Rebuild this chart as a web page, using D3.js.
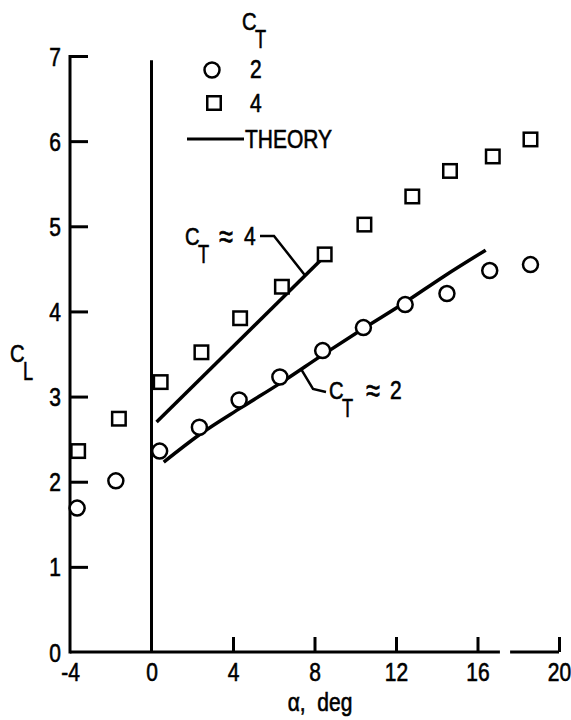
<!DOCTYPE html>
<html><head><meta charset="utf-8">
<script src="https://cdn.jsdelivr.net/npm/d3@7"></script>
<style>
html,body{margin:0;padding:0;background:#fff;}
text{font-family:"Liberation Sans",Arial,sans-serif;fill:#000;stroke:#000;stroke-width:0.6px;white-space:pre;}
</style></head>
<body><svg id="chart" width="571" height="720"></svg>
<script>
// ---- data ----
const xTicks = [-4, 0, 4, 8, 12, 16, 20];
const yTicks = [0, 1, 2, 3, 4, 5, 6, 7];
const ct2Alpha = [-3.65, -1.75, 0.4, 2.35, 4.3, 6.3, 8.4, 10.4, 12.45, 14.5, 16.6, 18.6];
const ct2CL    = [1.69, 2.01, 2.36, 2.64, 2.96, 3.23, 3.54, 3.81, 4.08, 4.21, 4.48, 4.55];
const ct4Alpha = [-3.6, -1.6, 0.45, 2.45, 4.35, 6.4, 8.5, 10.45, 12.8, 14.65, 16.75, 18.6];
const ct4CL    = [2.36, 2.74, 3.17, 3.52, 3.92, 4.29, 4.67, 5.02, 5.35, 5.65, 5.82, 6.02];
const theory2Alpha = [0.6, 2.4, 4.4, 6.4, 8.4, 10.4, 12.4, 14.4, 16.4];
const theory2CL    = [2.23, 2.56, 2.87, 3.17, 3.49, 3.80, 4.10, 4.42, 4.72];
const theory4Alpha = [0.25, 8.3];
const theory4CL    = [2.70, 4.60];

const svg = d3.select("#chart");
const x = d3.scaleLinear().domain([-4, 20]).range([70, 559]);
const y = d3.scaleLinear().domain([0, 7]).range([652, 56]);
const FS = 25, K = 0.84;

// narrow text helper
function ntext(xp, yp, str, opts = {}) {
  const g = svg.append("g").attr("transform", `translate(${xp},${yp}) scale(${opts.k || K},1)`);
  return g.append("text").attr("font-size", opts.fs || FS).attr("text-anchor", opts.anchor || "start").text(str);
}

// axes
const yAxis = d3.axisLeft(y).tickValues(yTicks).tickSizeInner(-18).tickSizeOuter(0).tickPadding(9).tickFormat(d => String(d));
const gy = svg.append("g").attr("transform", `translate(${x(-4)},0)`).call(yAxis);
gy.attr("font-family", null).attr("font-size", null);
gy.select(".domain").remove();
gy.selectAll(".tick line").attr("stroke", "#000").attr("stroke-width", 3).filter(d => d === 0).remove();
gy.selectAll(".tick text").attr("font-size", FS).attr("fill", "#000")
  .attr("x", -9 / K).attr("dy", "0.36em").attr("transform", `scale(${K},1)`);

const xAxis = d3.axisBottom(x).tickValues(xTicks).tickSizeInner(-15).tickSizeOuter(0).tickPadding(11).tickFormat(d => String(d));
const gx = svg.append("g").attr("transform", `translate(0,${y(0)})`).call(xAxis);
gx.attr("font-family", null).attr("font-size", null);
gx.select(".domain").remove();
gx.selectAll(".tick line").attr("stroke", "#000").attr("stroke-width", 3).filter(d => d === -4 || d === 0).remove();
gx.selectAll(".tick text").attr("font-size", FS).attr("fill", "#000").attr("transform", `scale(${K},1)`);

// axis lines
const axisStyle = s => s.attr("stroke", "#000").attr("stroke-width", 3).attr("fill", "none");
svg.append("line").attr("x1", x(-4)).attr("x2", x(-4)).attr("y1", y(7) - 1).attr("y2", y(0) + 1.5).call(axisStyle);
svg.append("line").attr("x1", x(-4)).attr("x2", x(17.1)).attr("y1", y(0)).attr("y2", y(0)).call(axisStyle);
svg.append("line").attr("x1", x(17.6)).attr("x2", x(20)).attr("y1", y(0)).attr("y2", y(0)).call(axisStyle);
// zero-alpha reference line
svg.append("line").attr("x1", x(0)).attr("x2", x(0)).attr("y1", y(6.95)).attr("y2", y(0)).call(axisStyle);

// theory lines
svg.append("path").datum(d3.zip(theory2Alpha, theory2CL))
  .attr("d", d3.line().x(d => x(d[0])).y(d => y(d[1])).curve(d3.curveMonotoneX))
  .attr("stroke", "#000").attr("stroke-width", 3.5).attr("fill", "none");
svg.append("path").datum(d3.zip(theory4Alpha, theory4CL))
  .attr("d", d3.line().x(d => x(d[0])).y(d => y(d[1])))
  .attr("stroke", "#000").attr("stroke-width", 3.5).attr("fill", "none");

// markers
svg.append("g").selectAll("circle").data(d3.zip(ct2Alpha, ct2CL)).join("circle")
  .attr("cx", d => x(d[0])).attr("cy", d => y(d[1])).attr("r", 7.5)
  .attr("fill", "#fff").attr("stroke", "#000").attr("stroke-width", 2.5);
const S = 13.5;
svg.append("g").selectAll("rect").data(d3.zip(ct4Alpha, ct4CL)).join("rect")
  .attr("x", d => x(d[0]) - S / 2).attr("y", d => y(d[1]) - S / 2).attr("width", S).attr("height", S)
  .attr("fill", "#fff").attr("stroke", "#000").attr("stroke-width", 2.5);

// C with subscript
function cSub(xp, yp, sub) {
  ntext(xp, yp, "C", { fs: 24 });
  ntext(xp + 13, yp + 18, sub, { fs: 26, k: 0.7 });
}

// axis titles
cSub(10, 362, "L");
ntext(320, 711, "α,  deg", { anchor: "middle" });

// legend
cSub(242, 30, "T");
svg.append("circle").attr("cx", 212).attr("cy", 70).attr("r", 7.5).attr("fill", "#fff").attr("stroke", "#000").attr("stroke-width", 2.5);
ntext(250, 78, "2");
svg.append("rect").attr("x", 214 - S / 2).attr("y", 103 - S / 2).attr("width", S).attr("height", S).attr("fill", "#fff").attr("stroke", "#000").attr("stroke-width", 2.5);
ntext(250, 112, "4");
svg.append("line").attr("x1", 187).attr("x2", 244).attr("y1", 139).attr("y2", 139).attr("stroke", "#000").attr("stroke-width", 3);
ntext(245, 148, "THEORY");

// annotations
cSub(185, 245, "T");
ntext(219, 248, "≈", { fs: 34, k: 0.75 });
ntext(244, 245, "4");
svg.append("path").attr("d", `M260,236 L274,236 L${x(7.55)},${y(4.42)}`).attr("stroke", "#000").attr("stroke-width", 2.5).attr("fill", "none");
cSub(329, 399, "T");
ntext(366, 402, "≈", { fs: 34, k: 0.75 });
ntext(390, 399, "2");
svg.append("path").attr("d", `M${x(7.35)},${y(3.32)} L313,389 L326,392`).attr("stroke", "#000").attr("stroke-width", 2.5).attr("fill", "none");
</script></body></html>
